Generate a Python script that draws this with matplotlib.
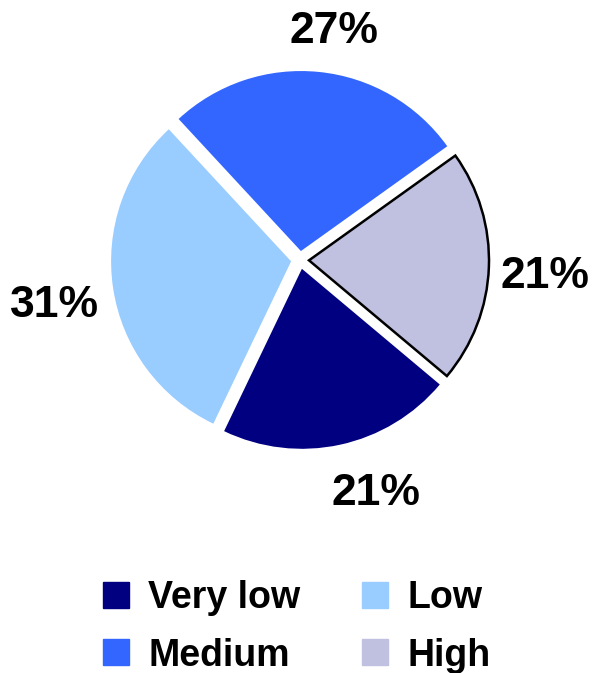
import matplotlib
matplotlib.use("Agg")
import matplotlib.pyplot as plt
from matplotlib.lines import Line2D

categories = ["Very low", "Low", "Medium", "High"]
values = [21, 31, 27, 21]
colors = ["#000080", "#99CCFF", "#3366FF", "#C0C0E0"]

plt.rcParams['font.family'] = ['Liberation Sans', 'DejaVu Sans']

W, H = 592, 673
fig = plt.figure(figsize=(W / 100, H / 100), dpi=100)
ax = fig.add_axes([0, 0, 1, 1])
R = 180.0
cx, cy = 300.0, 260.0

wedges, texts, autotexts = ax.pie(
    values, colors=colors, startangle=-40, counterclock=False,
    explode=[0.05] * 4, autopct=lambda p: f"{p:.0f}%", pctdistance=1.30,
    wedgeprops=dict(linewidth=0),
    textprops=dict(fontsize=32, fontweight='bold', color='black'))
wedges[3].set_edgecolor('black')
wedges[3].set_linewidth(1.8)

# fine label nudges (pixels) to match the reference placement
nudges = [(25, 4), (-5, -9), (9, -13), (2, -7)]
for t, (dx, dy) in zip(autotexts, nudges):
    x, y = t.get_position()
    t.set_position((x + dx / R, y + dy / R))

ax.set_xlim(-cx / R, (W - cx) / R)
ax.set_ylim(-(H - cy) / R, cy / R)
ax.set_position([0, 0, 1, 1])
ax.axis('off')

order = [0, 2, 1, 3]
handles = [Line2D([], [], marker='s', linestyle='none', markersize=19,
                  markerfacecolor=colors[i], markeredgecolor=colors[i])
           for i in order]
labels = [categories[i] for i in order]
fig.legend(handles, labels, ncol=2, frameon=False, loc='center',
           bbox_to_anchor=(0.5, 1 - 627 / H),
           prop=dict(size=27, weight='bold'),
           handlelength=0.75, handletextpad=0.5, columnspacing=1.6,
           labelspacing=0.56)

fig.savefig("out.png", dpi=100)
